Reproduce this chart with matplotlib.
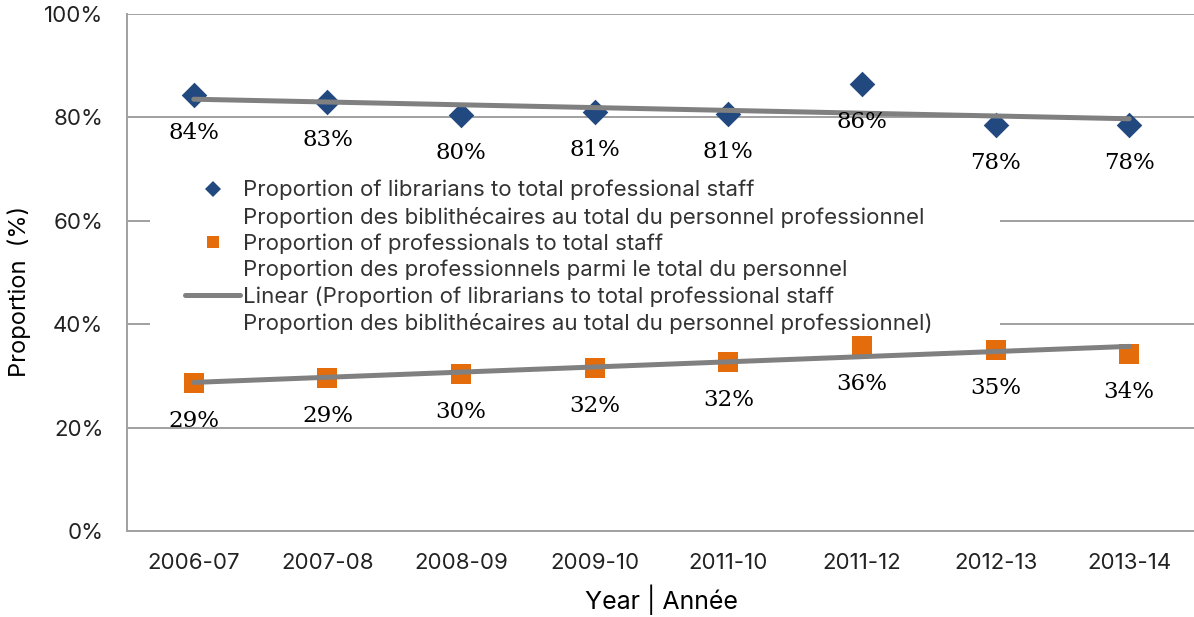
import numpy as np
import matplotlib
matplotlib.use("Agg")
import matplotlib.pyplot as plt
from matplotlib.lines import Line2D
from matplotlib.patches import Rectangle

years = ["2006-07", "2007-08", "2008-09", "2009-10", "2011-10", "2011-12", "2012-13", "2013-14"]
librarians = [84.3, 83.0, 80.5, 81.0, 80.7, 86.5, 78.5, 78.5]
professionals = [28.6, 29.6, 30.4, 31.5, 32.7, 35.8, 35.0, 34.2]
lib_labels = ["84%", "83%", "80%", "81%", "81%", "86%", "78%", "78%"]
pro_labels = ["29%", "29%", "30%", "32%", "32%", "36%", "35%", "34%"]
yticks = [0, 20, 40, 60, 80, 100]

legend_lines = [
    "Proportion of librarians to total professional staff",
    "Proportion des biblithécaires au total du personnel professionnel",
    "Proportion of professionals to total staff",
    "Proportion des professionnels parmi le total du personnel",
    "Linear (Proportion of librarians to total professional staff",
    "Proportion des biblithécaires au total du personnel professionnel)",
]

plt.rcParams['font.family'] = ['Inter', 'Open Sans', 'DejaVu Sans']

W, H = 1194, 617
fig = plt.figure(figsize=(W / 100, H / 100), dpi=100)
L, R, T, B = 127, 1196, 14, 531
ax = fig.add_axes([L / W, 1 - B / H, (R - L) / W, (B - T) / H])

def ax_x(px):
    return (px - L) / (R - L)

def ax_y(py):
    return (B - py) / (B - T)

x = np.arange(len(years)) + 0.5
blue = "#22497f"
orange = "#e46c0a"
gray = "#808080"
grid_c = "#a0a0a0"

ax.set_xlim(0, len(years))
ax.set_ylim(0, 100)
ax.set_yticks(yticks)
ax.set_yticklabels([f"{v}%" for v in yticks], fontsize=16, color="#222222")
ax.set_xticks(x)
ax.set_xticklabels(years, fontsize=16, color="#222222")
ax.tick_params(axis='x', length=0, pad=16)
ax.tick_params(axis='y', length=0, pad=17)
ax.grid(axis='y', color=grid_c, linewidth=1.4)
ax.set_axisbelow(True)
for s in ["top", "right"]:
    ax.spines[s].set_visible(False)
for s in ["left", "bottom"]:
    ax.spines[s].set_color(grid_c)
    ax.spines[s].set_linewidth(1.4)

ax.scatter(x, librarians, marker="D", s=170, color=blue, zorder=4, linewidths=0)
ax.scatter(x, professionals, marker="s", s=190, color=orange, zorder=4, linewidths=0)

c1 = np.polyfit(x, librarians, 1)
c2 = np.polyfit(x, professionals, 1)
ax.plot(x, np.polyval(c1, x), color=gray, linewidth=3.6, zorder=5, solid_capstyle="round")
ax.plot(x, np.polyval(c2, x), color=gray, linewidth=3.6, zorder=5, solid_capstyle="round")

for xi, v, t in zip(x, librarians, lib_labels):
    ax.annotate(t, (xi, v), xytext=(0, -27.5), textcoords="offset points", ha="center", va="center",
                fontsize=16.5, family="DejaVu Serif", zorder=6)
for xi, v, t in zip(x, professionals, pro_labels):
    ax.annotate(t, (xi, v), xytext=(0, -27.5), textcoords="offset points", ha="center", va="center",
                fontsize=16.5, family="DejaVu Serif", zorder=6)

# white legend background
ax.add_patch(Rectangle((ax_x(150), ax_y(334)), ax_x(1000) - ax_x(150), ax_y(176) - ax_y(334),
                       transform=ax.transAxes, facecolor="white", edgecolor="none", zorder=3))

blank = Line2D([], [], linestyle="none", marker=None)
lh1 = Line2D([], [], linestyle="none", marker="D", markersize=8, color=blue, markeredgewidth=0)
lh2 = Line2D([], [], linestyle="none", marker="s", markersize=9, color=orange, markeredgewidth=0)
lh3 = Line2D([], [], color=gray, linewidth=3.6, solid_capstyle="round")
fs_leg = 16
fpx = fs_leg * 100 / 72
leg = ax.legend(handles=[lh1, blank, lh2, blank, lh3, blank], labels=legend_lines,
                loc="upper left", bbox_to_anchor=(ax_x(185), ax_y(180)),
                fontsize=fs_leg, frameon=False, labelspacing=0.27,
                handlelength=55 / fpx, handletextpad=3 / fpx, borderpad=0, borderaxespad=0,
                labelcolor="#333333")
leg.set_zorder(7)

ax.set_ylabel("Proportion  (%)", fontsize=17)
ax.yaxis.set_label_coords(ax_x(31), ax_y(291))
ax.set_xlabel("Year | Année", fontsize=18, labelpad=8)

fig.savefig("out.png", dpi=100)
